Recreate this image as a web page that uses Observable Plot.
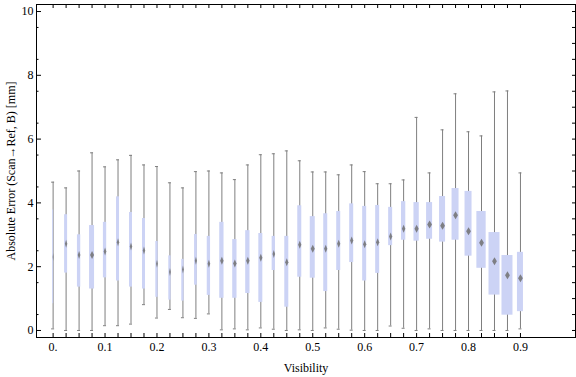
<!DOCTYPE html>
<html><head><meta charset="utf-8">
<script src="https://cdn.jsdelivr.net/npm/d3@7"></script>
<script src="https://cdn.jsdelivr.net/npm/@observablehq/plot@0.6"></script>
<style>body{margin:0;background:#fff}</style>
</head><body><div id="chart"></div>
<script>
const visibility = [0,0.025,0.05,0.075,0.1,0.125,0.15,0.175,0.2,0.225,0.25,0.275,0.3,0.325,0.35,0.375,0.4,0.425,0.45,0.475,0.5,0.525,0.55,0.575,0.6,0.625,0.65,0.675,0.7,0.725,0.75,0.775,0.8,0.825,0.85,0.875,0.9];
const whiskerLow = [0.05,0,0,0,0.15,0.15,0.2,0.81,0.39,0.66,0.40,0.38,0.52,0.02,0.05,0.02,0.08,0.04,0,0.02,0,0.08,0.04,0.01,0,0,0.14,0.07,0,0.05,0,0,0,0,0,0,0.05];
const quartile1 = [0.84,1.80,1.36,1.30,1.65,1.55,1.36,1.30,1.04,0.95,0.92,1.42,1.10,1.01,1.01,1.16,0.88,1.88,0.73,1.67,1.64,1.22,1.88,2.13,1.55,1.79,2.66,2.83,2.80,2.86,2.77,2.83,2.33,1.95,1.11,0.48,0.59];
const medianErr = [2.3,2.72,2.37,2.37,2.48,2.77,2.63,2.51,2.09,1.83,1.91,2.19,2.09,2.19,2.10,2.19,2.28,2.40,2.14,2.69,2.56,2.56,2.72,2.82,2.70,2.77,2.95,3.19,3.19,3.32,3.28,3.61,3.11,2.75,2.17,1.73,1.64];
const quartile3 = [3.78,3.63,3.00,3.29,3.39,4.19,3.70,3.51,2.79,2.34,2.23,3.01,2.95,3.39,2.85,3.13,3.04,2.95,2.95,3.91,3.57,3.66,3.73,3.97,3.89,3.92,3.86,4.04,4.01,4.01,4.20,4.45,4.36,3.73,3.07,2.35,2.45];
const whiskerHigh = [4.65,4.47,5.0,5.57,5.13,5.35,5.49,5.19,5.14,4.63,4.47,4.98,5.0,4.94,4.73,5.19,5.51,5.54,5.63,5.32,4.97,4.97,4.88,5.19,4.98,4.60,4.60,4.72,6.68,4.94,6.29,7.42,6.23,6.10,7.48,7.51,4.94];
// relative box weight (drawn box width)
const boxWeight = [1,3,3.3,5,3.3,3,3,3,2.3,2.3,2.3,2.7,3.3,4.3,4.3,4.3,4,3.3,4,4,5,4,4,4,4,4,4,4.3,5.3,6,6,7,7,9.3,11,11,6];
const xTickValues = [0,0.1,0.2,0.3,0.4,0.5,0.6,0.7,0.8,0.9];
const xTickLabels = ["0.","0.1","0.2","0.3","0.4","0.5","0.6","0.7","0.8","0.9"];
const yTickValues = [0,2,4,6,8,10];
const yTickLabels = ["0","2","4","6","8","10"];
const xTitle = "Visibility";
const yTitle = "Absolute Error (Scan\u2192Ref, B) [mm]";

const W = 576, H = 377, mL = 36, mR = 1, mT = 4, mB = 40;
const innerW = W - mL - mR, innerH = H - mT - mB;
const xDomain = [-0.032, 1.006], yDomain = [-0.22, 10.22];
const pxPerUnit = innerW / (xDomain[1] - xDomain[0]);

const rows = visibility.map((v, i) => ({
  v, lo: whiskerLow[i], q1: quartile1[i], med: medianErr[i], q3: quartile3[i], hi: whiskerHigh[i],
  hw: boxWeight[i] / 2 / pxPerUnit, mr: Math.min(boxWeight[i] * 0.4, 2.4)
}));
const capHalf = 1.5 / pxPerUnit;
const yMinor = d3.range(0.5, 10, 1);
const yAll = d3.range(0, 10.01, 0.5);

const vDiamond = {
  draw(ctx, size) {
    const r = Math.sqrt(size / Math.PI), h = 4;
    ctx.moveTo(0, -h); ctx.lineTo(r, 0); ctx.lineTo(0, h); ctx.lineTo(-r, 0); ctx.closePath();
  }
};

const chart = Plot.plot({
  width: W, height: H,
  marginLeft: mL, marginRight: mR, marginTop: mT, marginBottom: mB,
  style: {fontFamily: "'Liberation Serif','Times New Roman',serif", fontSize: "12px", color: "black", background: "white"},
  x: {domain: xDomain},
  y: {domain: yDomain},
  r: {type: "identity"},
  marks: [
    Plot.ruleX(rows, {x: "v", y1: "lo", y2: "hi", stroke: "#7f7f7f", strokeWidth: 1}),
    Plot.ruleY(rows, {y: "hi", x1: d => d.v - capHalf, x2: d => d.v + capHalf, stroke: "#7f7f7f"}),
    Plot.ruleY(rows, {y: "lo", x1: d => d.v - capHalf, x2: d => d.v + capHalf, stroke: "#7f7f7f"}),
    Plot.rect(rows, {x1: d => d.v - d.hw, x2: d => d.v + d.hw, y1: "q1", y2: "q3", fill: "#ccd3f5"}),
    Plot.dot(rows, {x: "v", y: "med", r: "mr", symbol: vDiamond, fill: "#707070", fillOpacity: 0.85, stroke: "none"}),
    // frame ticks (inside)
    Plot.ruleX(visibility, {x: d => d, insetTop: innerH - 4, stroke: "black"}),
    Plot.ruleX(visibility, {x: d => d, insetBottom: innerH - 4, stroke: "black"}),
    Plot.ruleY(yTickValues, {y: d => d, insetRight: innerW - 5, stroke: "black"}),
    Plot.ruleY(yMinor.filter(d => d <= 10), {y: d => d, insetRight: innerW - 2.5, stroke: "black"}),
    Plot.ruleY(yAll, {y: d => d, insetLeft: innerW - 3, stroke: "black"}),
    Plot.frame({stroke: "black", strokeWidth: 1}),
    Plot.axisX(xTickValues, {tickSize: 0, tickPadding: 5, tickFormat: d => xTickLabels[xTickValues.indexOf(d)],
      label: xTitle, labelAnchor: "center", labelArrow: "none", labelOffset: 34, fill: "black"}),
    Plot.axisY(yTickValues, {tickSize: 0, tickPadding: 3, tickFormat: d => yTickLabels[yTickValues.indexOf(d)],
      label: yTitle, labelAnchor: "center", labelArrow: "none", labelOffset: 30, fill: "black"})
  ]
});
document.getElementById("chart").appendChild(chart);
</script>
</body></html>
